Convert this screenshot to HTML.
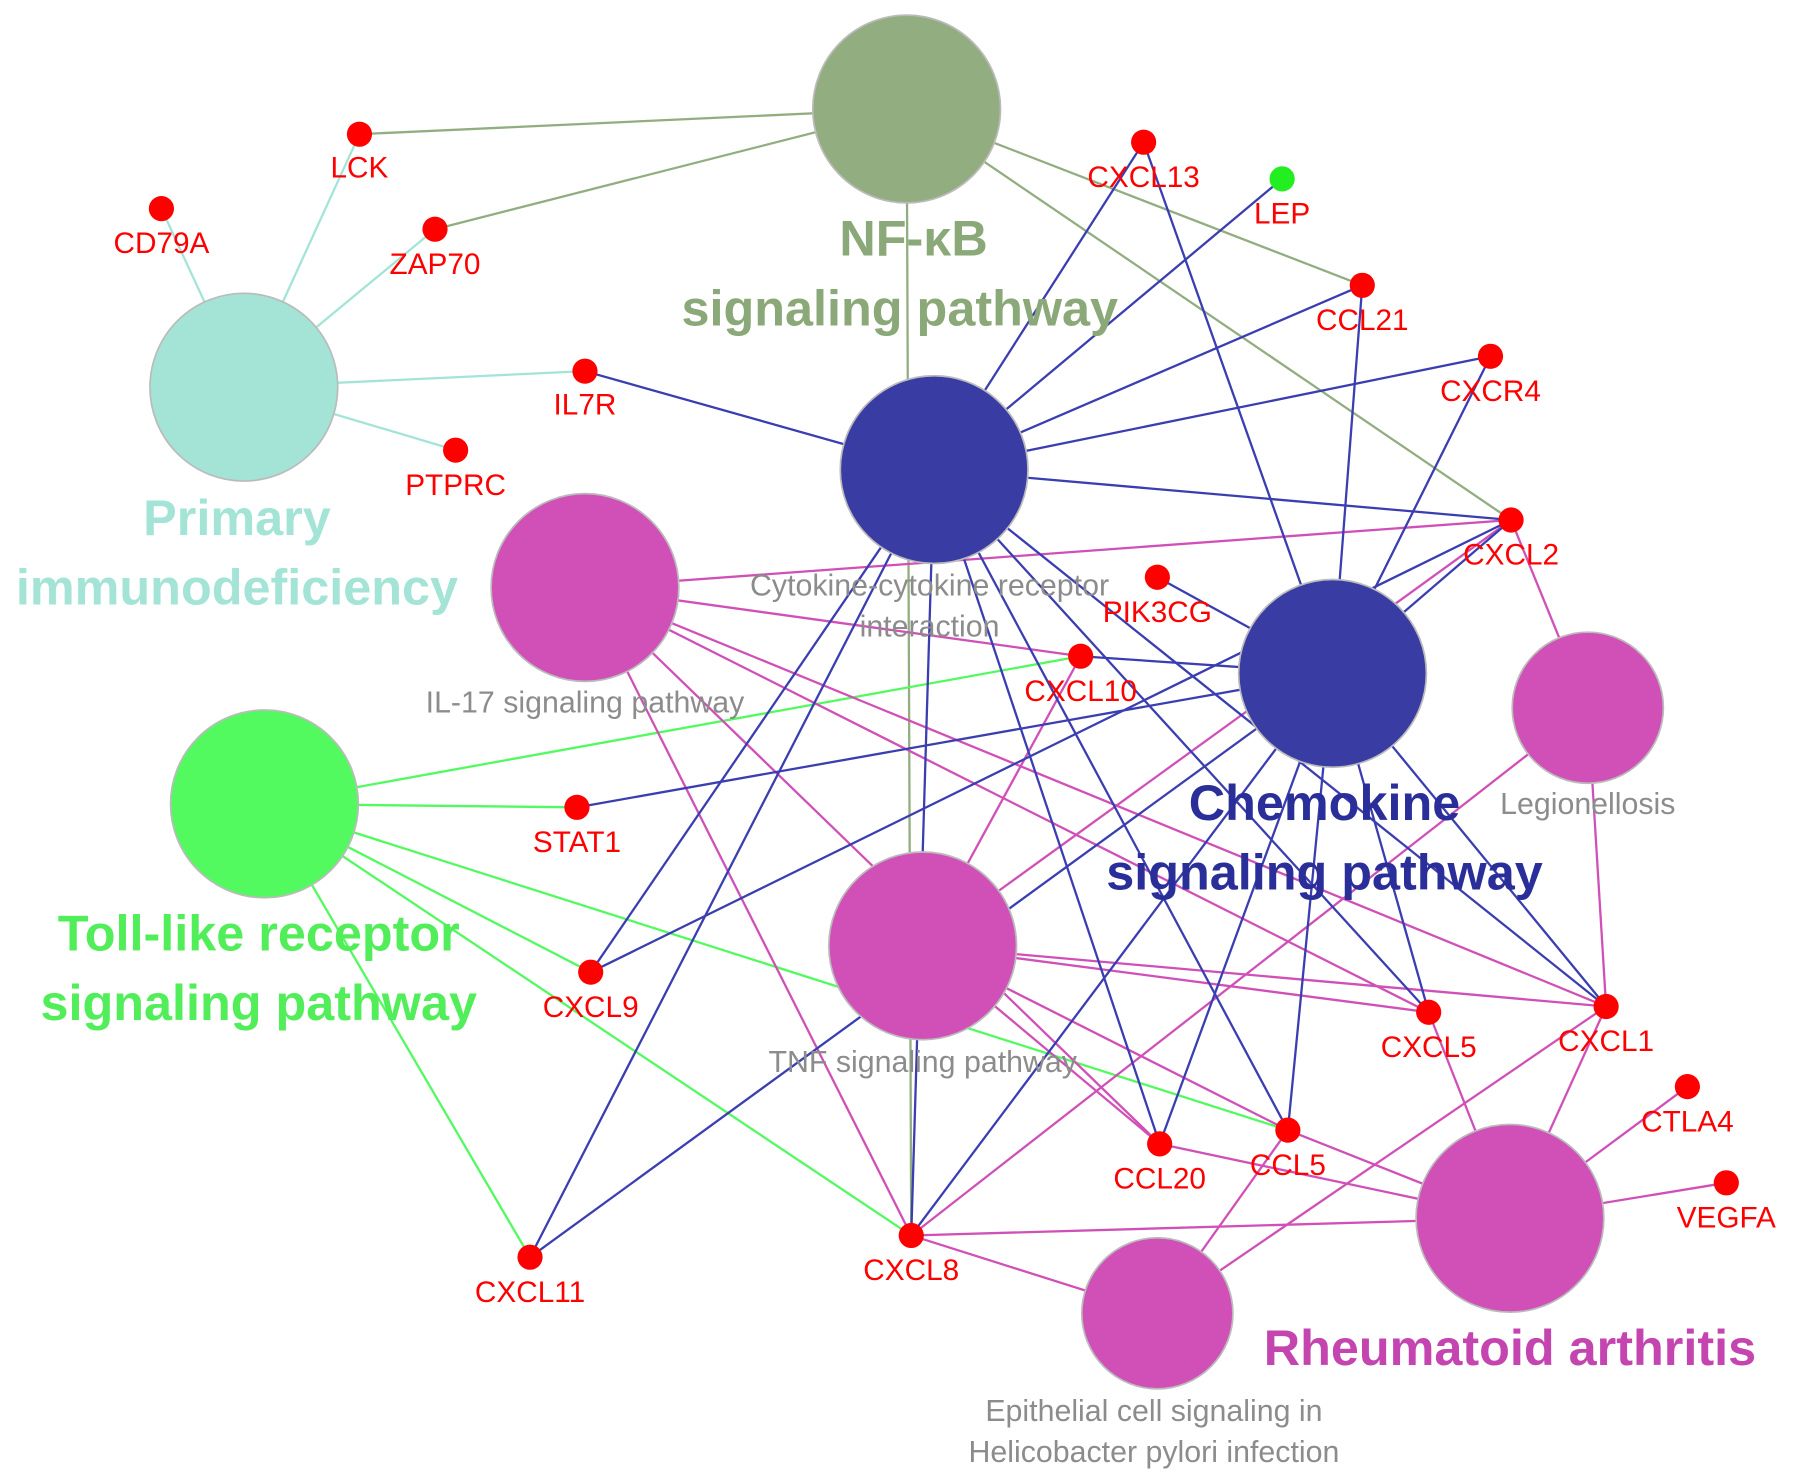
<!DOCTYPE html>
<html><head><meta charset="utf-8"><style>
html,body{margin:0;padding:0;background:#fff;}
svg{display:block;}
text{font-family:"Liberation Sans",Arial,sans-serif;}
.g{fill:#ff0000;font-size:26px;text-anchor:middle;}
.p{fill:#8c8c8c;font-size:26.5px;text-anchor:middle;}
.b{font-weight:bold;font-size:44px;text-anchor:middle;}
</style></head><body>
<svg width="1795" height="1483" viewBox="0 0 1568 1295" xmlns="http://www.w3.org/2000/svg">
<g stroke-width="2" fill="none">
<g stroke="#92ad80">
<line x1="792" y1="95" x2="314" y2="117"/><line x1="792" y1="95" x2="380" y2="200"/>
<line x1="792" y1="95" x2="1190" y2="249"/><line x1="792" y1="95" x2="1320" y2="454"/>
<line x1="792" y1="95" x2="796" y2="1079"/>
</g>
<g stroke="#a3e4d7">
<line x1="213" y1="338" x2="314" y2="117"/><line x1="213" y1="338" x2="141" y2="182"/>
<line x1="213" y1="338" x2="380" y2="200"/><line x1="213" y1="338" x2="511" y2="324"/>
<line x1="213" y1="338" x2="398" y2="393"/>
</g>
<g stroke="#52fa60">
<line x1="231" y1="702" x2="944" y2="573"/><line x1="231" y1="702" x2="504" y2="705"/>
<line x1="231" y1="702" x2="516" y2="849"/><line x1="231" y1="702" x2="1125" y2="987"/>
<line x1="231" y1="702" x2="796" y2="1079"/><line x1="231" y1="702" x2="463" y2="1098"/>
</g>
<g stroke="#d050b8">
<line x1="511" y1="513" x2="1320" y2="454"/><line x1="511" y1="513" x2="944" y2="573"/>
<line x1="511" y1="513" x2="796" y2="1079"/><line x1="511" y1="513" x2="1248" y2="884"/>
<line x1="511" y1="513" x2="1403" y2="879"/><line x1="511" y1="513" x2="1013" y2="999"/>
<line x1="806" y1="826" x2="1320" y2="454"/><line x1="806" y1="826" x2="944" y2="573"/>
<line x1="806" y1="826" x2="1248" y2="884"/><line x1="806" y1="826" x2="1403" y2="879"/>
<line x1="806" y1="826" x2="1013" y2="999"/><line x1="806" y1="826" x2="1125" y2="987"/>
<line x1="1387" y1="618" x2="1320" y2="454"/><line x1="1387" y1="618" x2="1403" y2="879"/>
<line x1="1387" y1="618" x2="796" y2="1079"/>
<line x1="1319" y1="1064" x2="1248" y2="884"/><line x1="1319" y1="1064" x2="1403" y2="879"/>
<line x1="1319" y1="1064" x2="1474" y2="949"/><line x1="1319" y1="1064" x2="1508" y2="1033"/>
<line x1="1319" y1="1064" x2="1013" y2="999"/><line x1="1319" y1="1064" x2="1125" y2="987"/>
<line x1="1319" y1="1064" x2="796" y2="1079"/>
<line x1="1011" y1="1147" x2="1125" y2="987"/><line x1="1011" y1="1147" x2="1403" y2="879"/>
<line x1="1011" y1="1147" x2="796" y2="1079"/>
</g>
<g stroke="#3a3eb0">
<line x1="816" y1="410" x2="999" y2="124"/><line x1="816" y1="410" x2="1120" y2="156"/>
<line x1="816" y1="410" x2="1190" y2="249"/><line x1="816" y1="410" x2="1302" y2="311"/>
<line x1="816" y1="410" x2="1320" y2="454"/><line x1="816" y1="410" x2="511" y2="324"/>
<line x1="816" y1="410" x2="516" y2="849"/><line x1="816" y1="410" x2="796" y2="1079"/>
<line x1="816" y1="410" x2="1013" y2="999"/><line x1="816" y1="410" x2="1125" y2="987"/>
<line x1="816" y1="410" x2="1248" y2="884"/><line x1="816" y1="410" x2="1403" y2="879"/>
<line x1="816" y1="410" x2="463" y2="1098"/>
<line x1="1164" y1="588" x2="999" y2="124"/><line x1="1164" y1="588" x2="1190" y2="249"/>
<line x1="1164" y1="588" x2="1302" y2="311"/><line x1="1164" y1="588" x2="1320" y2="454"/>
<line x1="1164" y1="588" x2="1011" y2="504"/><line x1="1164" y1="588" x2="944" y2="573"/>
<line x1="1164" y1="588" x2="504" y2="705"/><line x1="1164" y1="588" x2="463" y2="1098"/>
<line x1="1164" y1="588" x2="796" y2="1079"/><line x1="1164" y1="588" x2="1013" y2="999"/>
<line x1="1164" y1="588" x2="1125" y2="987"/><line x1="1164" y1="588" x2="1248" y2="884"/>
<line x1="1164" y1="588" x2="1403" y2="879"/><line x1="1320" y1="454" x2="516" y2="849"/>
</g>
</g>
<g stroke="#bbb" stroke-width="1.5">
<circle cx="792" cy="95" r="82" fill="#92ad80"/>
<circle cx="213" cy="338" r="82" fill="#a3e4d7"/>
<circle cx="816" cy="410" r="82" fill="#383ca3"/>
<circle cx="511" cy="513" r="82" fill="#d050b8"/>
<circle cx="1164" cy="588" r="82" fill="#383ca3"/>
<circle cx="1387" cy="618" r="66" fill="#d050b8"/>
<circle cx="231" cy="702" r="82" fill="#52fa60"/>
<circle cx="806" cy="826" r="82" fill="#d050b8"/>
<circle cx="1319" cy="1064" r="82" fill="#d050b8"/>
<circle cx="1011" cy="1147" r="66" fill="#d050b8"/>
</g>
<g fill="#ff0000">
<circle cx="314" cy="117" r="11"/><circle cx="141" cy="182" r="11"/><circle cx="380" cy="200" r="11"/>
<circle cx="511" cy="324" r="11"/><circle cx="398" cy="393" r="11"/><circle cx="999" cy="124" r="11"/>
<circle cx="1190" cy="249" r="11"/><circle cx="1302" cy="311" r="11"/>
<circle cx="1320" cy="454" r="11"/><circle cx="1011" cy="504" r="11"/><circle cx="944" cy="573" r="11"/>
<circle cx="504" cy="705" r="11"/><circle cx="516" cy="849" r="11"/><circle cx="1248" cy="884" r="11"/>
<circle cx="1403" cy="879" r="11"/><circle cx="1474" cy="949" r="11"/><circle cx="1508" cy="1033" r="11"/>
<circle cx="1013" cy="999" r="11"/><circle cx="1125" cy="987" r="11"/><circle cx="796" cy="1079" r="11"/>
<circle cx="463" cy="1098" r="11"/>
</g>
<circle cx="1120" cy="156" r="11" fill="#22ee22"/>
<text class="g" x="314" y="155">LCK</text><text class="g" x="141" y="221">CD79A</text>
<text class="g" x="380" y="239">ZAP70</text><text class="g" x="511" y="362">IL7R</text>
<text class="g" x="398" y="432">PTPRC</text><text class="g" x="999" y="163">CXCL13</text>
<text class="g" x="1120" y="195">LEP</text><text class="g" x="1190" y="288">CCL21</text>
<text class="g" x="1302" y="350">CXCR4</text><text class="g" x="1320" y="493">CXCL2</text>
<text class="g" x="1011" y="543">PIK3CG</text><text class="g" x="944" y="612">CXCL10</text>
<text class="g" x="504" y="744">STAT1</text><text class="g" x="516" y="888">CXCL9</text>
<text class="g" x="1248" y="923">CXCL5</text><text class="g" x="1403" y="918">CXCL1</text>
<text class="g" x="1474" y="988">CTLA4</text><text class="g" x="1508" y="1072">VEGFA</text>
<text class="g" x="1013" y="1038">CCL20</text><text class="g" x="1125" y="1026">CCL5</text>
<text class="g" x="796" y="1118">CXCL8</text><text class="g" x="463" y="1137">CXCL11</text>
<text class="p" x="812" y="520">Cytokine-cytokine receptor</text>
<text class="p" x="812" y="556">interaction</text>
<text class="p" x="511" y="622">IL-17 signaling pathway</text>
<text class="p" x="1387" y="711">Legionellosis</text>
<text class="p" x="806" y="936">TNF signaling pathway</text>
<text class="p" x="1008" y="1241">Epithelial cell signaling in</text>
<text class="p" x="1008" y="1277">Helicobacter pylori infection</text>
<text class="b" x="798" y="223" fill="#8aa878">NF-κB</text>
<text class="b" x="786" y="284" fill="#8aa878">signaling pathway</text>
<text class="b" x="207" y="467" fill="#a3e4d7">Primary</text>
<text class="b" x="207" y="528" fill="#a3e4d7">immunodeficiency</text>
<text class="b" x="1157" y="716" fill="#2a2e99">Chemokine</text>
<text class="b" x="1157" y="777" fill="#2a2e99">signaling pathway</text>
<text class="b" x="226" y="830" fill="#52ee5a">Toll-like receptor</text>
<text class="b" x="226" y="891" fill="#52ee5a">signaling pathway</text>
<text class="b" x="1319" y="1192" fill="#c444b0">Rheumatoid arthritis</text>
</svg>
</body></html>
